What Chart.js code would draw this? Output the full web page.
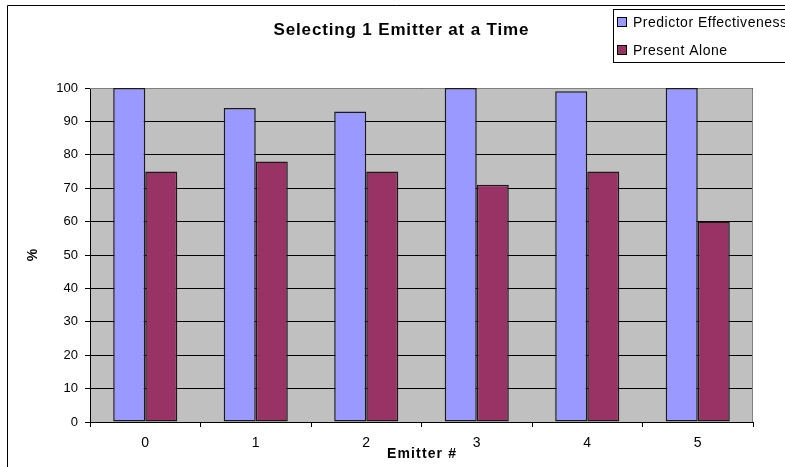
<!DOCTYPE html>
<html>
<head>
<meta charset="utf-8">
<script src="https://cdn.jsdelivr.net/npm/chart.js@4.4.1/dist/chart.umd.min.js"></script>
<style>
  html, body { margin: 0; padding: 0; background: #fff; }
  #wrap { width: 785px; height: 467px; }
</style>
</head>
<body>
<div id="wrap"><canvas id="emitterChart" width="785" height="467"></canvas></div>
<script>
// data
const emitters = ["0", "1", "2", "3", "4", "5"];
const predictorEffectiveness = [100, 94, 93, 100, 99, 100];
const presentAlone = [75, 78, 75, 71, 75, 60];
const yTicks = [0, 10, 20, 30, 40, 50, 60, 70, 80, 90, 100];

const chartTitle = "Selecting 1 Emitter at a Time";
const xTitle = "Emitter #";
const yTitle = "%";
const FONT = "'Liberation Sans', Arial, sans-serif";

const ctx = document.getElementById("emitterChart");

// old excel text runs wide, so stretch the letters to a given width
const spacedText = (c, text, x, y, width) => {
    c.letterSpacing = "0px";
    const w = c.measureText(text).width;
    const gap = text.length > 1 ? (width - w) / (text.length - 1) : 0;
    c.letterSpacing = gap + "px";
    // letterSpacing also adds after the last char, shift back half of it
    if (c.textAlign === "center") x += gap / 2;
    c.fillText(text, x, y);
    c.letterSpacing = "0px";
};

// background, outer frame, grey plot area
const excelLook = {
    id: "excelLook",
    beforeDraw(chart) {
        const c = chart.ctx;
        const a = chart.chartArea;
        c.save();
        c.fillStyle = "#fff";
        c.fillRect(0, 0, chart.width, chart.height);
        c.strokeStyle = "#000";
        c.lineWidth = 1;
        c.beginPath();
        c.moveTo(7.5, chart.height + 5);
        c.lineTo(7.5, 5.5);
        c.lineTo(chart.width + 5, 5.5);
        c.stroke();
        c.fillStyle = "#c0c0c0";
        c.fillRect(a.left, a.top, a.right - a.left, a.bottom - a.top);
        c.restore();
    },
    beforeDatasetsDraw(chart) {
        const c = chart.ctx;
        const a = chart.chartArea;
        c.save();
        c.strokeStyle = "#808080";
        c.lineWidth = 1;
        c.beginPath();
        c.moveTo(a.left, a.top + 0.5);
        c.lineTo(a.right - 0.5, a.top + 0.5);
        c.lineTo(a.right - 0.5, a.bottom);
        c.stroke();
        c.restore();
    },
    afterDraw(chart) {
        const c = chart.ctx;
        const a = chart.chartArea;
        c.save();
        c.fillStyle = "#000";
        c.textBaseline = "middle";

        // title
        c.font = "bold 17px " + FONT;
        c.textAlign = "center";
        spacedText(c, chartTitle, 401, 30, 255);

        // axis titles
        c.font = "bold 14px " + FONT;
        spacedText(c, xTitle, (a.left + a.right) / 2, 454, 69);
        c.save();
        c.translate(33, (a.top + a.bottom) / 2);
        c.rotate(-Math.PI / 2);
        c.fillText(yTitle, 0, 0);
        c.restore();

        // legend box
        c.fillStyle = "#fff";
        c.fillRect(613, 9, 200, 53);
        c.strokeStyle = "#000";
        c.lineWidth = 1;
        c.strokeRect(613.5, 9.5, 200, 53);
        c.font = "14px " + FONT;
        c.textAlign = "left";
        const legendWidths = [154, 94];
        chart.data.datasets.forEach((ds, i) => {
            const cy = 22 + i * 28;
            c.fillStyle = ds.backgroundColor;
            c.fillRect(617.5, cy - 4.5, 9, 9);
            c.strokeRect(617.5, cy - 4.5, 9, 9);
            c.fillStyle = "#000";
            spacedText(c, ds.label, 633, cy + 1, legendWidths[i]);
        });
        c.restore();
    }
};

const emitterChart = new Chart(ctx, {
    type: "bar",
    data: {
        labels: emitters,
        datasets: [
            {
                label: "Predictor Effectiveness",
                data: predictorEffectiveness,
                backgroundColor: "#9999ff",
                borderColor: "#1a1a1a",
                borderWidth: 1.5,
                borderSkipped: false,
                categoryPercentage: 0.58,
                barPercentage: 1
            },
            {
                label: "Present Alone",
                data: presentAlone,
                backgroundColor: "#993366",
                borderColor: "#1a1a1a",
                borderWidth: 1.5,
                borderSkipped: false,
                categoryPercentage: 0.58,
                barPercentage: 1
            }
        ]
    },
    options: {
        responsive: false,
        animation: false,
        layout: { padding: { top: 88, right: 32, left: 0, bottom: 0 } },
        plugins: {
            legend: { display: false },
            title: { display: false },
            tooltip: { enabled: false }
        },
        scales: {
            x: {
                afterFit(scale) { scale.height = 45; },
                grid: {
                    drawOnChartArea: false,
                    drawTicks: true,
                    tickLength: 5,
                    color: "#000",
                    offset: true
                },
                border: { color: "#000", width: 1 },
                ticks: {
                    color: "#000",
                    padding: 8,
                    font: { family: FONT, size: 14 }
                }
            },
            y: {
                min: 0,
                max: 100,
                afterFit(scale) { scale.width = 90; },
                afterBuildTicks(scale) {
                    scale.ticks = yTicks.map(v => ({ value: v }));
                },
                grid: {
                    color: "#000",
                    lineWidth: 1,
                    drawTicks: true,
                    tickLength: 5
                },
                border: { color: "#000", width: 1 },
                ticks: {
                    color: "#000",
                    padding: 7,
                    font: { family: FONT, size: 13 }
                }
            }
        }
    },
    plugins: [excelLook]
});
</script>
</body>
</html>
